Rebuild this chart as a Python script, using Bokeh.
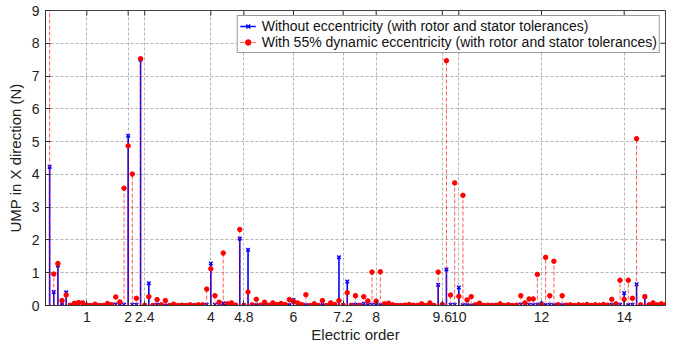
import math

from bokeh.plotting import figure
from bokeh.models import (ColumnDataSource, FixedTicker, Range1d,
                          Legend, LegendItem)
from bokeh.embed import file_html
from bokeh.resources import INLINE

# Electric orders of the spectrum lines (0.1 resolution up to order 15)
orders = [round(0.1 * k, 1) for k in range(1, 151)]

# UMP amplitude in X direction (N), healthy machine with tolerances
ump_healthy = [
    4.23, 0.41, 1.22, 0.08, 0.40, 0.02, 0.04, 0.03, 0.02, 0.01,   # 0.1 - 1.0
    0.00, 0.01, 0.00, 0.01, 0.00, 0.03, 0.03, 0.05, 0.02, 5.18,   # 1.1 - 2.0
    0.02, 0.02, 7.50, 0.01, 0.68, 0.00, 0.02, 0.01, 0.00, 0.00,   # 2.1 - 3.0
    0.01, 0.00, 0.01, 0.00, 0.01, 0.00, 0.01, 0.01, 0.02, 1.28,   # 3.1 - 4.0
    0.02, 0.02, 0.07, 0.01, 0.00, 0.01, 2.04, 0.01, 1.70, 0.01,   # 4.1 - 5.0
    0.01, 0.00, 0.01, 0.02, 0.00, 0.01, 0.02, 0.01, 0.01, 0.17,   # 5.1 - 6.0
    0.02, 0.01, 0.01, 0.00, 0.01, 0.00, 0.01, 0.00, 0.01, 0.01,   # 6.1 - 7.0
    1.47, 0.01, 0.73, 0.02, 0.02, 0.02, 0.05, 0.01, 0.02, 0.01,   # 7.1 - 8.0
    0.01, 0.00, 0.01, 0.00, 0.01, 0.00, 0.01, 0.01, 0.00, 0.01,   # 8.1 - 9.0
    0.01, 0.00, 0.01, 0.00, 0.63, 0.01, 1.10, 0.02, 0.02, 0.55,   # 9.1 - 10.0
    0.01, 0.01, 0.00, 0.01, 0.00, 0.01, 0.00, 0.01, 0.00, 0.01,   # 10.1 - 11.0
    0.00, 0.01, 0.00, 0.01, 0.03, 0.01, 0.02, 0.01, 0.02, 0.06,   # 11.1 - 12.0
    0.01, 0.02, 0.01, 0.02, 0.01, 0.00, 0.01, 0.00, 0.01, 0.00,   # 12.1 - 13.0
    0.01, 0.00, 0.01, 0.00, 0.01, 0.00, 0.02, 0.01, 0.02, 0.38,   # 13.1 - 14.0
    0.01, 0.02, 0.65, 0.01, 0.27, 0.01, 0.00, 0.01, 0.00, 0.01,   # 14.1 - 15.0
]

# UMP amplitude in X direction (N), 55 % dynamic eccentricity with tolerances
ump_eccentric = [
    9.60, 0.96, 1.28, 0.15, 0.32, 0.00, 0.07, 0.09, 0.08, 0.01,   # 0.1 - 1.0
    0.00, 0.04, 0.00, 0.00, 0.06, 0.02, 0.26, 0.11, 3.58, 4.87,   # 1.1 - 2.0
    4.01, 0.22, 7.53, 0.00, 0.27, 0.00, 0.18, 0.02, 0.15, 0.00,   # 2.1 - 3.0
    0.04, 0.00, 0.01, 0.00, 0.02, 0.00, 0.02, 0.02, 0.50, 1.12,   # 3.1 - 4.0
    0.30, 0.10, 1.60, 0.05, 0.08, 0.01, 2.32, 0.00, 0.41, 0.02,   # 4.1 - 5.0
    0.19, 0.01, 0.10, 0.00, 0.08, 0.03, 0.06, 0.03, 0.18, 0.12,   # 5.1 - 6.0
    0.08, 0.03, 0.33, 0.00, 0.05, 0.00, 0.15, 0.00, 0.08, 0.03,   # 6.1 - 7.0
    0.15, 0.00, 0.39, 0.00, 0.30, 0.00, 0.27, 0.14, 1.02, 0.13,   # 7.1 - 8.0
    1.03, 0.05, 0.07, 0.02, 0.00, 0.00, 0.01, 0.03, 0.01, 0.00,   # 8.1 - 9.0
    0.05, 0.00, 0.08, 0.00, 1.02, 0.03, 7.47, 0.32, 3.74, 0.28,   # 9.1 - 10.0
    3.36, 0.17, 0.27, 0.02, 0.07, 0.00, 0.01, 0.00, 0.01, 0.05,   # 10.1 - 11.0
    0.00, 0.02, 0.00, 0.01, 0.30, 0.08, 0.20, 0.20, 0.95, 0.02,   # 11.1 - 12.0
    1.47, 0.30, 1.35, 0.02, 0.30, 0.01, 0.02, 0.00, 0.02, 0.01,   # 12.1 - 13.0
    0.03, 0.00, 0.02, 0.01, 0.03, 0.01, 0.19, 0.05, 0.77, 0.19,   # 13.1 - 14.0
    0.77, 0.22, 5.09, 0.02, 0.27, 0.02, 0.08, 0.02, 0.05, 0.02,   # 14.1 - 15.0
]

order_ticks = [1, 2, 2.4, 4, 4.8, 6, 7.2, 8, 9.6, 10, 12, 14]
ump_ticks = [0, 1, 2, 3, 4, 5, 6, 7, 8, 9]

label_healthy = "Without eccentricity (with rotor and stator tolerances)"
label_eccentric = "With 55% dynamic eccentricity (with rotor and stator tolerances)"

FONT = "Liberation Sans"
BLUE = "#0000ff"
RED = "#ff0000"
X_MIN, X_MAX, Y_MIN, Y_MAX = 0, 15, 0, 9

src = ColumnDataSource(dict(order=orders, zero=[0.0] * len(orders),
                            healthy=ump_healthy, eccentric=ump_eccentric))

p = figure(width=682, height=347, output_backend="svg", toolbar_location=None,
           x_range=Range1d(X_MIN, X_MAX), y_range=Range1d(Y_MIN, Y_MAX),
           min_border_left=45, min_border_right=17,
           min_border_top=10, min_border_bottom=42)
p.background_fill_color = "white"
p.border_fill_color = "white"
p.outline_line_color = "#444444"
p.outline_line_width = 1

# axes with inward ticks
for ax, ticks in ((p.xaxis[0], order_ticks), (p.yaxis[0], ump_ticks)):
    ax.ticker = FixedTicker(ticks=ticks)
    ax.major_tick_in = 5
    ax.major_tick_out = 0
    ax.minor_tick_in = 0
    ax.minor_tick_out = 0
    ax.axis_line_color = "#333333"
    ax.major_tick_line_color = "#333333"
    ax.major_label_text_font = FONT
    ax.major_label_text_font_size = "14px"
    ax.major_label_text_color = "#222222"
    ax.axis_label_text_font = FONT
    ax.axis_label_text_font_size = "15px"
    ax.axis_label_text_font_style = "normal"
    ax.axis_label_text_color = "#222222"

p.xaxis.axis_label = "Electric order"
p.yaxis.axis_label = "UMP in X direction (N)"
p.xaxis.major_label_standoff = 6
p.xaxis.axis_label_standoff = 1
p.yaxis.major_label_standoff = 6
p.yaxis.axis_label_standoff = 5
p.xaxis.major_label_overrides = {2.4: "2.4", 4.8: "4.8", 7.2: "7.2", 9.6: "9.6"}

# dashed grid at the tick positions
p.xgrid.ticker = FixedTicker(ticks=order_ticks)
p.ygrid.ticker = FixedTicker(ticks=ump_ticks)
p.grid.grid_line_color = "#b5b5b5"
p.grid.grid_line_dash = "3 2"
p.grid.grid_line_width = 1

# mirrored inward tick marks on the top and right edges (half of each dash
# falls outside the frame and is clipped away)
p.scatter(x=order_ticks, y=[Y_MAX] * len(order_ticks), marker="dash", size=10,
          angle=math.pi / 2, line_color="#333333", line_width=1)
p.scatter(x=[X_MAX] * len(ump_ticks), y=ump_ticks, marker="dash", size=10,
          line_color="#333333", line_width=1)

# stems and markers
seg_h = p.segment(x0="order", y0="zero", x1="order", y1="healthy", source=src,
                  line_color=BLUE, line_width=1.6)
dot_h = p.scatter(x="order", y="healthy", source=src, marker="x", size=5,
                  line_color=BLUE, line_width=1.5)
seg_e = p.segment(x0="order", y0="zero", x1="order", y1="eccentric", source=src,
                  line_color=RED, line_width=1, line_dash="4 2", line_alpha=0.65)
dot_e = p.scatter(x="order", y="eccentric", source=src, marker="circle", size=4.5,
                  line_color=RED, fill_color=RED, line_width=1)

legend = Legend(items=[LegendItem(label=label_healthy, renderers=[seg_h, dot_h]),
                       LegendItem(label=label_eccentric, renderers=[seg_e, dot_e])],
                location="top_right")
legend.label_text_font = FONT
legend.label_text_font_size = "14px"
legend.label_text_color = "#111111"
legend.border_line_color = "#333333"
legend.border_line_width = 1
legend.background_fill_color = "white"
legend.background_fill_alpha = 1
legend.glyph_width = 16
legend.glyph_height = 14
legend.label_height = 14
legend.label_standoff = 6
legend.spacing = 0
legend.padding = 2
legend.margin = 5
p.add_layout(legend)

open("out.html", "w").write(file_html(p, INLINE))
